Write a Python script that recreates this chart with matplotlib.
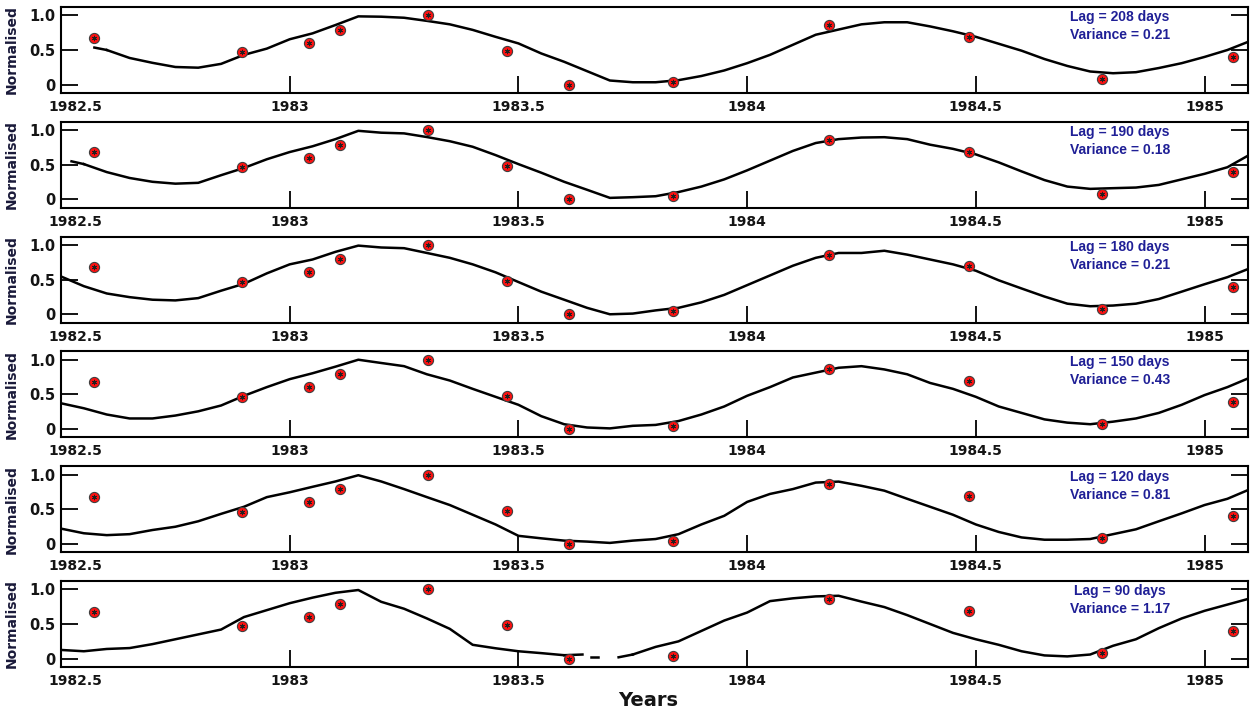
import numpy as np
import matplotlib
matplotlib.use("Agg")
import matplotlib.pyplot as plt

# sampling grid shared by every panel (years)
years = np.round(np.arange(1982.5, 1985.1001, 0.05), 2)
nan = np.nan

# observed normalised values (same in every panel)
obs_years = [1982.573, 1982.896, 1983.042, 1983.110, 1983.303, 1983.475,
             1983.611, 1983.838, 1984.180, 1984.486, 1984.776, 1985.062]
obs_vals = [0.68, 0.465, 0.605, 0.79, 1.0, 0.48, 0.0, 0.045, 0.86, 0.69, 0.08, 0.395]

lags = [208, 190, 180, 150, 120, 90]
variances = ["0.21", "0.18", "0.21", "0.43", "0.81", "1.17"]

lag208 = [nan, nan, 0.50, 0.385, 0.315, 0.255, 0.245, 0.30, 0.43, 0.52,
          0.655, 0.74, 0.86, 0.985, 0.98, 0.965, 0.92, 0.87, 0.79, 0.69,
          0.595, 0.45, 0.33, 0.195, 0.06, 0.035, 0.035, 0.065, 0.125, 0.205,
          0.31, 0.43, 0.575, 0.72, 0.795, 0.87, 0.90, 0.90, 0.84, 0.77,
          0.69, 0.59, 0.49, 0.37, 0.27, 0.19, 0.165, 0.18, 0.24, 0.31,
          0.40, 0.50, 0.63]
lag190 = [nan, 0.51, 0.395, 0.31, 0.255, 0.228, 0.24, 0.35, 0.455, 0.58,
          0.684, 0.767, 0.87, 0.99, 0.963, 0.953, 0.90, 0.84, 0.76, 0.64,
          0.51, 0.386, 0.255, 0.14, 0.023, 0.033, 0.047, 0.107, 0.186, 0.29,
          0.42, 0.56, 0.70, 0.814, 0.87, 0.893, 0.898, 0.87, 0.79, 0.73,
          0.65, 0.535, 0.405, 0.28, 0.186, 0.153, 0.163, 0.172, 0.21, 0.29,
          0.37, 0.465, 0.65]
lag180 = [0.545, 0.405, 0.30, 0.247, 0.21, 0.20, 0.233, 0.34, 0.44, 0.59,
          0.72, 0.79, 0.90, 0.99, 0.963, 0.953, 0.884, 0.814, 0.72, 0.605,
          0.465, 0.326, 0.21, 0.093, 0.0, 0.01, 0.056, 0.093, 0.172, 0.28,
          0.42, 0.56, 0.70, 0.814, 0.884, 0.884, 0.916, 0.86, 0.79, 0.72,
          0.628, 0.49, 0.372, 0.256, 0.153, 0.116, 0.126, 0.153, 0.22, 0.326,
          0.433, 0.535, 0.665]
lag150 = [0.372, 0.30, 0.21, 0.153, 0.153, 0.195, 0.256, 0.34, 0.48, 0.605,
          0.72, 0.805, 0.90, 1.0, 0.953, 0.907, 0.79, 0.70, 0.58, 0.465,
          0.35, 0.186, 0.07, 0.023, 0.01, 0.047, 0.06, 0.116, 0.21, 0.326,
          0.48, 0.605, 0.744, 0.814, 0.884, 0.907, 0.86, 0.79, 0.665, 0.58,
          0.465, 0.326, 0.233, 0.14, 0.093, 0.07, 0.107, 0.153, 0.233, 0.35,
          0.49, 0.605, 0.744]
lag120 = [0.22, 0.153, 0.126, 0.14, 0.20, 0.247, 0.326, 0.433, 0.535, 0.674,
          0.744, 0.823, 0.90, 0.99, 0.90, 0.79, 0.674, 0.56, 0.42, 0.28,
          0.116, 0.08, 0.047, 0.033, 0.014, 0.047, 0.07, 0.14, 0.28, 0.405,
          0.605, 0.72, 0.79, 0.884, 0.898, 0.837, 0.767, 0.65, 0.535, 0.42,
          0.28, 0.172, 0.093, 0.06, 0.06, 0.07, 0.14, 0.21, 0.326, 0.44,
          0.56, 0.65, 0.79]
lag90 = [0.126, 0.107, 0.14, 0.153, 0.21, 0.28, 0.35, 0.42, 0.60, 0.70,
         0.80, 0.88, 0.95, 0.99, 0.82, 0.72, 0.58, 0.43, 0.20, 0.15,
         0.107, 0.08, 0.05, nan, nan, 0.06, 0.17, 0.25, 0.40, 0.55,
         0.665, 0.83, 0.87, 0.898, 0.907, 0.823, 0.744, 0.628, 0.50, 0.372,
         0.28, 0.20, 0.107, 0.047, 0.033, 0.06, 0.186, 0.28, 0.44, 0.58,
         0.69, 0.78, 0.87]

# short pieces that fall between grid samples
extra_pieces = {
    208: [([1982.573, 1982.60], [0.535, 0.50])],
    190: [([1982.523, 1982.55], [0.55, 0.51])],
    90: [([1983.60, 1983.64], [0.05, 0.06]),
         ([1983.658, 1983.673], [0.02, 0.02]),
         ([1983.719, 1983.75], [0.02, 0.06])],
}
curves = [lag208, lag190, lag180, lag150, lag120, lag90]

xticks = [1982.5, 1983, 1983.5, 1984, 1984.5, 1985]
xticklabels = ["1982.5", "1983", "1983.5", "1984", "1984.5", "1985"]

W, H = 1259, 715
fig = plt.figure(figsize=(W / 100, H / 100), dpi=100)
navy = "#1f1f96"
left_px, right_px = 61, 1248
for i, (lag, var, vals) in enumerate(zip(lags, variances, curves)):
    top = 7 + 114.8 * i
    bot = 93 + 114.8 * i
    ax = fig.add_axes([left_px / W, 1 - bot / H, (right_px - left_px) / W, (bot - top) / H])
    ax.plot(years, vals, color="black", lw=1.8)
    for xs, ys in extra_pieces.get(lag, []):
        ax.plot(xs, ys, color="black", lw=1.8)
    ax.plot(obs_years, obs_vals, ls="none", marker="o", ms=7.3, mfc="#ff1010",
            mec="#404040", mew=0.8, zorder=3)
    ax.plot(obs_years, obs_vals, ls="none", marker=(6, 2, 0), ms=3.8,
            color="#202020", mew=0.6, zorder=4)
    ax.set_xlim(1982.5, 1985.095)
    ax.set_ylim(-0.12, 1.12)
    ax.set_yticks([0, 0.5, 1.0], ["0", "0.5", "1.0"])
    ax.set_xticks(xticks, [""] + xticklabels[1:])
    ax.annotate(xticklabels[0], xy=(xticks[0], 0), xycoords=ax.get_xaxis_transform(),
                xytext=(10, -5), textcoords="offset points", ha="center", va="top",
                fontsize=10, fontweight="bold", color="#141414")
    ax.tick_params(axis="y", direction="in", length=12, width=1.3, left=True,
                   right=True, labelsize=10.5, pad=4, labelcolor="#141414")
    ax.tick_params(axis="x", direction="in", length=12, width=1.3, bottom=True,
                   top=False, labelsize=10, pad=5, labelcolor="#141414")
    for lab in ax.get_xticklabels() + ax.get_yticklabels():
        lab.set_fontweight("bold")
    for sp in ax.spines.values():
        sp.set_linewidth(1.5)
    ax.set_ylabel("Normalised", fontsize=10, fontweight="bold", color="#1a1a3a")
    ax.yaxis.set_label_coords(-(left_px - 19) / (right_px - left_px), 0.5)
    ax.text(0.892, 0.88, f"Lag = {lag} days", transform=ax.transAxes, ha="center",
            va="center", fontsize=10, fontweight="bold", color=navy,
            family="Liberation Sans")
    ax.text(0.892, 0.67, f"Variance = {var}", transform=ax.transAxes, ha="center",
            va="center", fontsize=10, fontweight="bold", color=navy,
            family="Liberation Sans")

fig.text(648 / W, 1 - 701 / H, "Years", ha="center", va="center", fontsize=14,
         fontweight="bold", color="#141414")
fig.savefig("out.png", dpi=100)
